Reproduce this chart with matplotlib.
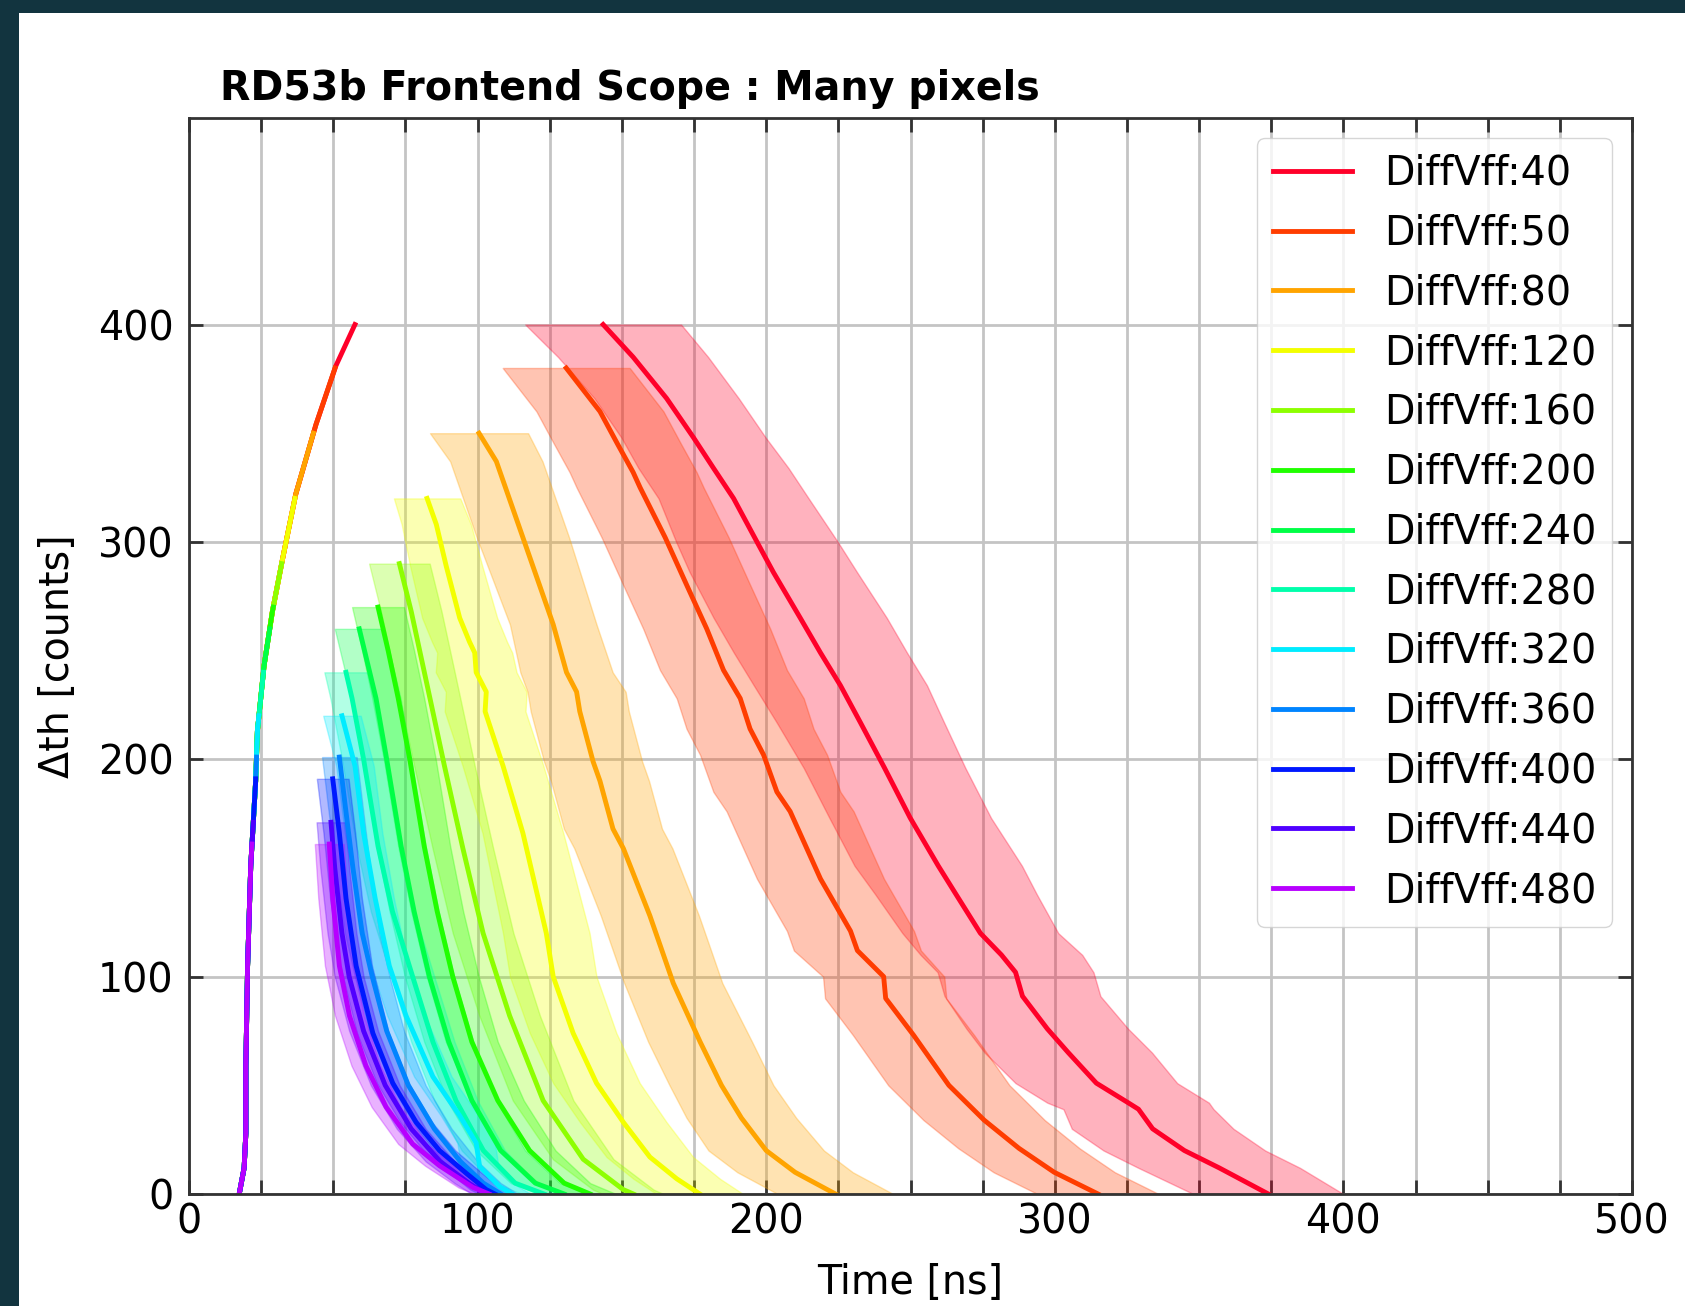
import matplotlib
matplotlib.use('Agg')
import matplotlib.pyplot as plt
from matplotlib.ticker import MultipleLocator
from matplotlib.patches import Rectangle
import numpy as np

# DiffVff settings in the scan
vff = [40, 50, 80, 120, 160, 200, 240, 280, 320, 360, 400, 440, 480]

# shared rising edge (time [ns] vs threshold)
rise_th = [0, 12, 28, 59, 105, 151, 190, 213, 243, 268, 292, 322, 354, 381, 400]
rise_t = [17.4, 19.1, 19.7, 19.7, 20.3, 21.4, 23.1, 23.7, 26.0, 28.9, 32.4, 37.0, 44.0, 50.9, 57.5]
# where each rising edge stops (time at the peak)
rise_end = [57.5, 50.6, 43.1, 36.7, 32.1, 29.2, 28.0, 25.8, 24.2, 23.4, 23.1, 22.3, 21.8]

# falling edge: threshold, mean time, spread over pixels
th_40 = [400, 385, 366, 348, 334, 320, 300, 286, 265, 249, 234, 217, 196, 173, 151,
         138, 120, 110, 102, 91, 76, 65, 51, 42, 39, 30, 20, 12, 0]
t_40 = [143.5, 153.9, 165.5, 174.8, 181.7, 188.7, 196.8, 202.5, 211.8, 218.8, 225.7,
        232.6, 241.0, 249.9, 259.6, 265.7, 274.2, 281.5, 286.4, 288.8, 297.4, 304.7,
        314.4, 325.4, 329.0, 333.9, 344.9, 357.0, 374.0]
sd_40 = [27, 26, 25, 25, 26, 26, 28, 29, 30, 30, 30, 29, 28, 28, 29,
         28, 27, 28, 27, 27, 28, 29, 28, 28, 26, 28, 28, 28, 26]

th_50 = [380, 360, 345, 332, 325, 302, 280, 260, 241, 228, 214, 202, 185, 176, 145,
         121, 112, 100, 90, 73, 50, 34, 21, 10, 0]
t_50 = [130.7, 142.4, 148.5, 153.9, 156.3, 165.0, 172.5, 179.4, 185.2, 191.0, 194.4,
        199.1, 203.7, 208.3, 218.8, 229.2, 231.6, 240.7, 241.4, 251.1, 263.3, 275.5,
        287.6, 299.8, 315.0]
sd_50 = [22, 22, 22, 22, 22, 22, 22, 22, 22, 22, 22, 22, 22, 22, 22,
         22, 22, 21, 21, 21, 21, 21, 21, 21, 21]

th_80 = [350, 337, 302, 262, 240, 231, 222, 216, 199, 190, 168, 159, 128, 97, 70, 50, 35, 20, 10, 0]
t_80 = [100.5, 106.5, 115.7, 126.2, 130.8, 134.3, 135.4, 136.6, 140.0, 142.4, 146.9,
        150.5, 159.7, 167.8, 177.1, 184.5, 191.4, 200.0, 210.0, 224.0]
sd_80 = [17, 16, 16, 15, 16, 17, 17, 17, 17, 17, 17, 17, 17, 17, 18, 18, 19, 20, 20, 20]

th_120 = [320, 308, 289, 265, 254, 249, 240, 231, 222, 197, 166, 120, 100, 74, 51, 33, 17, 7, 0]
t_120 = [82.5, 85.7, 89.1, 93.8, 97.2, 99.0, 99.5, 103.0, 102.6, 108.8, 115.7, 123.8,
         126.2, 133.1, 141.2, 150.5, 159.7, 169.0, 177.0]
sd_120 = [11.5, 12, 12.5, 13, 13, 13, 14, 14, 14, 14, 14, 15, 15, 15, 15, 15, 15, 15, 15]

th_160 = [290, 268, 228, 197, 159, 120, 82, 43, 16, 2, 0]
t_160 = [72.9, 77.0, 83.5, 88.5, 94.9, 101.9, 111.1, 122.7, 136.6, 150.5, 154.0]
sd_160 = [10.5, 10.5, 10.5, 10.5, 10.5, 10.5, 10.5, 10.5, 10.5, 10.5, 10.5]

th_200 = [270, 250, 228, 200, 160, 130, 100, 70, 43, 20, 5, 0]
t_200 = [65.5, 69.0, 72.5, 76.5, 81.5, 86.0, 91.4, 98.0, 107.0, 118.0, 130.0, 139.0]
sd_200 = [9, 9, 9, 9, 9, 9, 9, 9, 9, 9, 9, 9]

th_240 = [260, 228, 200, 160, 130, 100, 70, 43, 20, 5, 0]
t_240 = [59.0, 64.8, 68.5, 73.5, 78.0, 83.3, 90.0, 98.0, 108.0, 120.0, 130.0]
sd_240 = [8.5, 8.5, 8.5, 8.5, 8.5, 8.5, 8.5, 8.5, 8.5, 8.5, 8.5]

th_280 = [240, 228, 200, 160, 130, 100, 70, 43, 20, 5, 0]
t_280 = [54.4, 56.5, 60.5, 65.5, 70.5, 77.5, 84.5, 92.5, 102.0, 113.0, 123.0]
sd_280 = [7.5, 7.5, 7.5, 7.5, 7.5, 7.5, 7.5, 7.5, 7.5, 7.5, 7.5]

th_320 = [220, 197, 166, 136, 105, 82, 54, 36, 23.5, 12.7, 3.4, 0]
t_320 = [53.0, 57.5, 60.5, 64.5, 69.4, 75.2, 84.5, 93.8, 99.5, 100.7, 107.6, 112.0]
sd_320 = [6.5, 6.5, 6.5, 6.5, 6.5, 6.5, 6.5, 6.5, 6.5, 6.5, 6.5, 6.5]

th_360 = [201, 180, 150, 120, 100, 75, 50, 30, 15, 5, 0]
t_360 = [52.1, 54.0, 56.8, 60.0, 63.5, 68.5, 76.0, 85.0, 94.0, 102.0, 108.0]
sd_360 = [6, 6, 6, 6, 6, 6, 6, 6, 6, 6, 6]

th_400 = [191, 166, 136, 105, 74, 51, 33, 20, 9.5, 2, 0]
t_400 = [49.8, 52.1, 54.4, 57.9, 63.7, 70.6, 78.7, 86.8, 96.1, 103.0, 106.0]
sd_400 = [5.5, 5.5, 5.5, 5.5, 5.5, 5.5, 5.5, 5.5, 5.5, 5.5, 5.5]

th_440 = [171, 150, 120, 100, 75, 50, 30, 15, 5, 0]
t_440 = [49.2, 50.5, 53.0, 55.5, 60.5, 68.0, 77.0, 87.0, 97.0, 103.0]
sd_440 = [5, 5, 5, 5, 5, 5, 5, 5, 5, 5]

th_480 = [161, 136, 105, 82, 59, 40, 23, 13, 3, 0]
t_480 = [48.6, 49.8, 52.1, 55.6, 61.3, 68.3, 77.5, 86.8, 98.4, 104.0]
sd_480 = [5, 5, 5, 5, 5, 5, 5, 5, 5, 5]

fall_th = [th_40, th_50, th_80, th_120, th_160, th_200, th_240, th_280, th_320, th_360, th_400, th_440, th_480]
fall_t = [t_40, t_50, t_80, t_120, t_160, t_200, t_240, t_280, t_320, t_360, t_400, t_440, t_480]
fall_sd = [sd_40, sd_50, sd_80, sd_120, sd_160, sd_200, sd_240, sd_280, sd_320, sd_360, sd_400, sd_440, sd_480]

colors = plt.cm.gist_rainbow(np.linspace(0, 0.9, len(vff)))
FS = 28.5

fig = plt.figure(figsize=(16.85, 13.06), dpi=100, facecolor='#12343f')
# white slide area (dark strip left and top like the screenshot)
fig.patches.append(Rectangle((19 / 1685, 0), 1, 1 - 13 / 1306, transform=fig.transFigure,
                             facecolor='white', edgecolor='none', zorder=-1))
ax = fig.add_axes([189 / 1685, 1 - 1194 / 1306, 1443 / 1685, 1076 / 1306])
ax.set_axisbelow(True)

rise_th_a = np.array(rise_th)
rise_t_a = np.array(rise_t)
for i, v in enumerate(vff):
    th = np.array(fall_th[i])
    t = np.array(fall_t[i])
    sd = np.array(fall_sd[i])
    c = colors[i]
    ax.fill_betweenx(th, t - sd, t + sd, color=c, alpha=0.3)
    ax.plot(t, th, color=c, lw=3.5, label=f'DiffVff:{v}')
    below = rise_th_a < th[0]
    ax.plot(list(rise_t_a[below]) + [rise_end[i]], list(rise_th_a[below]) + [th[0]], color=c, lw=3.5)

ax.set_xlim(0, 500)
ax.set_ylim(0, 495)
ax.xaxis.set_major_locator(MultipleLocator(100))
ax.xaxis.set_minor_locator(MultipleLocator(25))
ax.yaxis.set_major_locator(MultipleLocator(100))
ax.tick_params(which='both', direction='in', top=True, right=True, length=10, width=2, color='#333333')
ax.tick_params(axis='x', labelsize=FS, pad=6)
ax.tick_params(axis='y', labelsize=FS, pad=11)
ax.grid(which='both', axis='x', color='#c4c4c4', lw=2)
ax.grid(which='major', axis='y', color='#c4c4c4', lw=2)
for s in ax.spines.values():
    s.set_linewidth(2)
    s.set_color('#333333')

ax.set_xlabel('Time [ns]', fontsize=FS)
ax.set_ylabel('Δth [counts]', fontsize=FS)
ax.xaxis.set_label_coords(0.5, -0.064)
ax.yaxis.set_label_coords(-0.077, 0.5)
ax.text(0.0215, 1.017, 'RD53b Frontend Scope : Many pixels', transform=ax.transAxes,
        fontsize=FS, fontweight='bold', va='baseline')

ax.legend(loc='upper right', fontsize=FS, labelspacing=0.5)

fig.savefig('out.png', dpi=100)
